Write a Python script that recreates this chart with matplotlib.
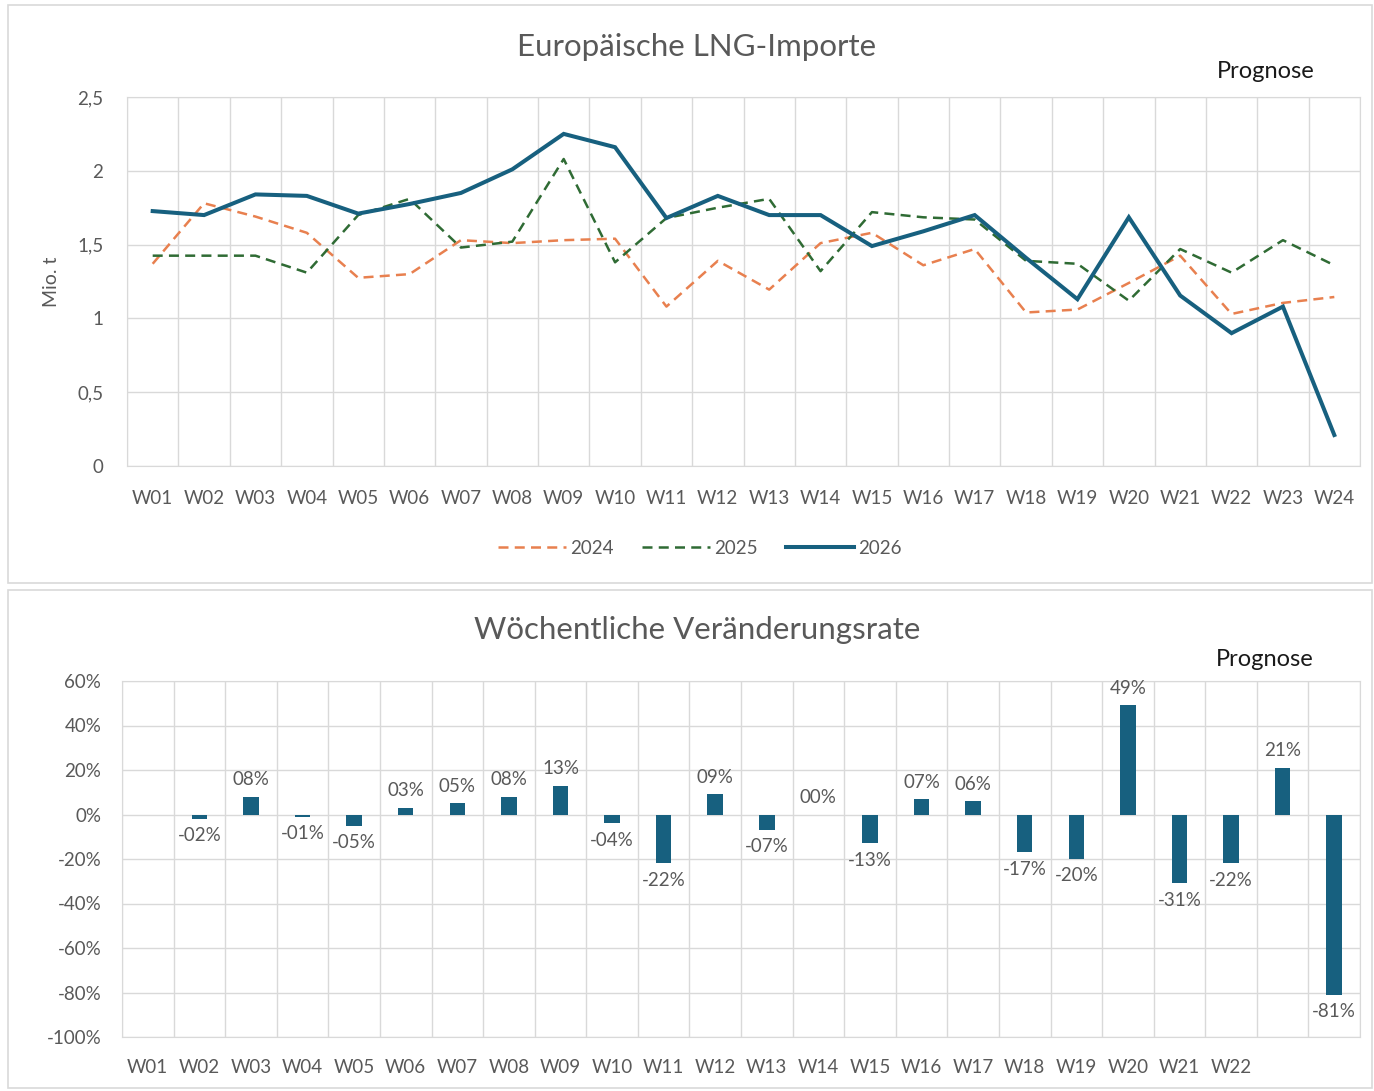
import matplotlib
matplotlib.use("Agg")
import matplotlib.pyplot as plt
from matplotlib.patches import Rectangle
import numpy as np

plt.rcParams['font.family'] = ['Lato', 'DejaVu Sans']

weeks = [f"W{i:02d}" for i in range(1, 25)]
bottom_labels = [f"W{i:02d}" for i in range(1, 23)] + ["", ""]

imp_2024 = [1.37, 1.78, 1.69, 1.58, 1.275, 1.30, 1.53, 1.51, 1.53, 1.54, 1.08, 1.39,
            1.195, 1.51, 1.58, 1.36, 1.47, 1.04, 1.06, 1.24, 1.425, 1.03, 1.105, 1.145]
imp_2025 = [1.425, 1.425, 1.425, 1.31, 1.70, 1.81, 1.48, 1.52, 2.08, 1.38, 1.68, 1.75,
            1.81, 1.32, 1.72, 1.685, 1.67, 1.39, 1.37, 1.12, 1.47, 1.31, 1.53, 1.36]
imp_2026 = [1.727, 1.70, 1.84, 1.83, 1.71, 1.775, 1.85, 2.01, 2.25, 2.16, 1.68, 1.83,
            1.70, 1.70, 1.49, 1.59, 1.70, 1.41, 1.13, 1.685, 1.155, 0.90, 1.08, 0.21]

change_pct = [None, -2, 8, -1, -5, 3, 5, 8, 13, -4, -22, 9, -7, 0, -13, 7, 6,
              -17, -20, 49, -31, -22, 21, -81]

top_yticks = [0, 0.5, 1, 1.5, 2, 2.5]
top_yticklabels = ["0", "0,5", "1", "1,5", "2", "2,5"]
bot_yticks = [-100, -80, -60, -40, -20, 0, 20, 40, 60]

C24 = "#E8804F"
C25 = "#2F6B34"
C26 = "#17607F"
GRID = "#D9D9D9"
TXT = "#595959"
TICK_FS = 13.5

fig = plt.figure(figsize=(13.74, 10.91), dpi=100)

# panel frames
W, H = 1374, 1091
for (x0, y0, x1, y1) in [(8, 5, 1372, 583), (8, 590, 1372, 1088)]:
    fig.patches.append(Rectangle((x0 / W, 1 - y1 / H), (x1 - x0) / W, (y1 - y0) / H,
                                 transform=fig.transFigure, fill=False,
                                 edgecolor="#D9D9D9", linewidth=1.2))

x = np.arange(len(weeks))

# ---------- top chart ----------
ax1 = fig.add_axes([127 / W, 1 - 466 / H, (1360 - 127) / W, (466 - 97) / H])
ax1.plot(x, imp_2024, color=C24, lw=1.8, ls=(0, (4, 2.5)), label="2024")
ax1.plot(x, imp_2025, color=C25, lw=1.8, ls=(0, (4, 2.5)), label="2025")
ax1.plot(x, imp_2026, color=C26, lw=2.9, label="2026", solid_joinstyle="miter")
ax1.set_xlim(-0.5, len(weeks) - 0.5)
ax1.set_ylim(0, 2.5)
ax1.set_yticks(top_yticks)
ax1.set_yticklabels(top_yticklabels)
ax1.set_xticks(x)
ax1.set_xticklabels(weeks)
ax1.set_xticks(np.arange(-0.5, len(weeks)), minor=True)
ax1.grid(True, which="minor", axis="x", color=GRID, lw=1)
ax1.grid(True, which="major", axis="y", color=GRID, lw=1)
ax1.tick_params(axis="both", which="both", length=0, labelsize=TICK_FS, colors=TXT)
ax1.tick_params(axis="x", pad=17)
ax1.tick_params(axis="y", pad=17)
for s in ["top", "right", "left", "bottom"]:
    ax1.spines[s].set_color(GRID)
ax1.set_axisbelow(True)
ax1.set_ylabel("Mio. t", fontsize=14, color=TXT, labelpad=12)
fig.text(697 / W, 1 - 47 / H, "Europäische LNG-Importe", ha="center", va="center",
         fontsize=22.5, color=TXT)
fig.text(1266 / W, 1 - 72 / H, "Prognose", ha="center", va="center",
         fontsize=17, color="#1a1a1a")
leg = fig.legend(*ax1.get_legend_handles_labels(), loc="center",
                 bbox_to_anchor=(700 / W, 1 - 548 / H), ncol=3, frameon=False,
                 fontsize=TICK_FS, handlelength=3.6, columnspacing=1.5, handletextpad=0.25)
for t in leg.get_texts():
    t.set_color(TXT)

# ---------- bottom chart ----------
ax2 = fig.add_axes([122 / W, 1 - 1037 / H, (1360 - 122) / W, (1037 - 681) / H])
vals = [np.nan if v is None else v for v in change_pct]
ax2.bar(x, vals, width=0.3, color=C26, zorder=3)
ax2.set_xlim(-0.5, len(weeks) - 0.5)
ax2.set_ylim(-100, 60)
ax2.set_yticks(bot_yticks)
ax2.set_yticklabels([f"{v}%" for v in bot_yticks])
ax2.set_xticks(x)
ax2.set_xticklabels(bottom_labels)
ax2.set_xticks(np.arange(-0.5, len(weeks)), minor=True)
ax2.grid(True, which="minor", axis="x", color=GRID, lw=1)
ax2.grid(True, which="major", axis="y", color=GRID, lw=1)
ax2.tick_params(axis="both", which="both", length=0, labelsize=TICK_FS, colors=TXT)
ax2.tick_params(axis="x", pad=16)
ax2.tick_params(axis="y", pad=15)
for s in ["top", "right", "left", "bottom"]:
    ax2.spines[s].set_color(GRID)
ax2.set_axisbelow(True)
for xi, v in zip(x, change_pct):
    if v is None:
        continue
    lab = f"-{abs(v):02d}%" if v < 0 else f"{v:02d}%"
    if v >= 0:
        ax2.annotate(lab, (xi, v), xytext=(0, 6), textcoords="offset points",
                     ha="center", va="bottom", fontsize=TICK_FS, color=TXT)
    else:
        ax2.annotate(lab, (xi, v), xytext=(0, -6), textcoords="offset points",
                     ha="center", va="top", fontsize=TICK_FS, color=TXT)
fig.text(697 / W, 1 - 630 / H, "Wöchentliche Veränderungsrate", ha="center", va="center",
         fontsize=22.5, color=TXT)
fig.text(1265 / W, 1 - 659 / H, "Prognose", ha="center", va="center",
         fontsize=17, color="#1a1a1a")

fig.savefig("out.png", dpi=100)
